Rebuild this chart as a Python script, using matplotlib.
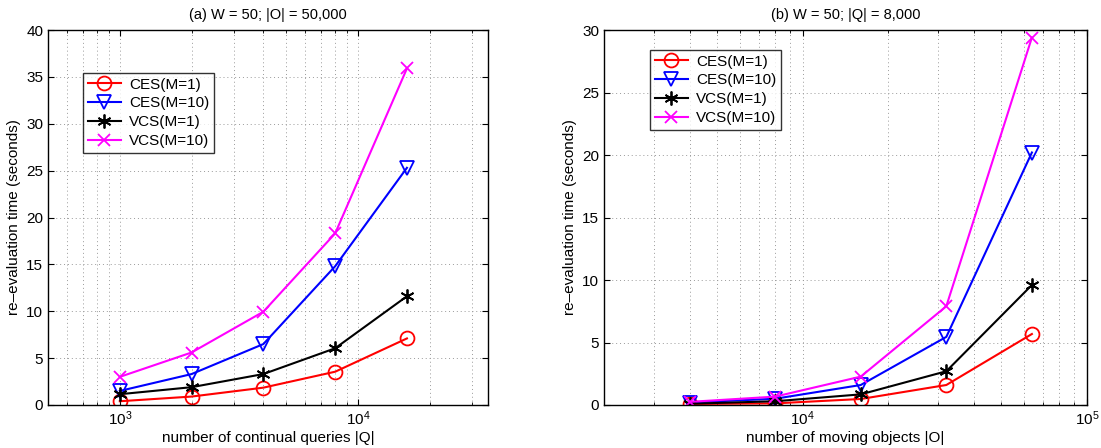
import matplotlib
matplotlib.use("Agg")
import matplotlib.pyplot as plt
from matplotlib.ticker import LogLocator, NullFormatter, MultipleLocator

plt.rcParams["font.family"] = ["Liberation Sans", "DejaVu Sans"]
plt.rcParams["mathtext.fontset"] = "custom"
plt.rcParams["mathtext.rm"] = "Liberation Sans"
plt.rcParams["mathtext.it"] = "Liberation Sans"

# (a) varying number of queries, |O| = 50,000
queries = [1000, 2000, 4000, 8000, 16000]
a_ces1 = [0.4, 0.9, 1.85, 3.55, 7.1]
a_ces10 = [1.5, 3.3, 6.5, 14.8, 25.3]
a_vcs1 = [1.15, 1.9, 3.3, 6.05, 11.6]
a_vcs10 = [3.0, 5.6, 9.95, 18.3, 35.9]

# (b) varying number of objects, |Q| = 8,000
objects = [4000, 8000, 16000, 32000, 64000]
b_ces1 = [0.08, 0.13, 0.48, 1.6, 5.68]
b_ces10 = [0.2, 0.5, 1.6, 5.45, 20.2]
b_vcs1 = [0.1, 0.3, 0.85, 2.7, 9.6]
b_vcs10 = [0.25, 0.67, 2.27, 7.9, 29.4]

labels = ["CES(M=1)", "CES(M=10)", "VCS(M=1)", "VCS(M=10)"]
colors = ["#ff0000", "#0000ff", "#000000", "#ff00ff"]
markers = ["o", "v", (6, 2, 0), "x"]

fig = plt.figure(figsize=(11.01, 4.48), dpi=100)
W, H = 1101, 448
ax1 = fig.add_axes([48 / W, 1 - 405 / H, 440 / W, 375 / H])
ax2 = fig.add_axes([604 / W, 1 - 405 / H, 483 / W, 375 / H])


def draw(ax, x, series, xlim, ylim, title, xlabel, leg_anchor):
    for ys, lab, c, m in zip(series, labels, colors, markers):
        ax.plot(x, ys, color=c, marker=m, markersize=10 if m != "x" else 8,
                markerfacecolor="none", markeredgecolor=c, markeredgewidth=1.3,
                linewidth=1.5, label=lab)
    ax.set_xscale("log")
    ax.set_xlim(*xlim)
    ax.set_ylim(*ylim)
    ax.yaxis.set_major_locator(MultipleLocator(5))
    ax.xaxis.set_major_locator(LogLocator(base=10))
    ax.xaxis.set_minor_locator(LogLocator(base=10, subs=range(2, 10)))
    ax.xaxis.set_minor_formatter(NullFormatter())
    grid_kw = dict(color="0.6", linestyle=(0, (1, 3)), linewidth=0.7)
    ax.grid(True, which="major", **grid_kw)
    ax.grid(True, which="minor", axis="x", **grid_kw)
    ax.tick_params(which="both", direction="in", top=True, right=True, labelsize=11)
    ax.tick_params(which="major", length=4)
    ax.tick_params(which="minor", length=2)
    for s in ax.spines.values():
        s.set_linewidth(1.0)
    ax.set_title(title, fontsize=10.5, pad=8)
    ax.set_xlabel(xlabel, fontsize=11, labelpad=2)
    ax.set_ylabel("re\u2013evaluation time (seconds)", fontsize=11, labelpad=4)
    leg = ax.legend(loc="upper left", bbox_to_anchor=leg_anchor, fontsize=11,
                    frameon=True, fancybox=False, edgecolor="black",
                    borderpad=0.3, labelspacing=0.32, handlelength=2.2,
                    handletextpad=0.5, borderaxespad=0)
    leg.get_frame().set_linewidth(1.0)


draw(ax1, queries, [a_ces1, a_ces10, a_vcs1, a_vcs10], (500, 35000), (0, 40),
     "(a) W = 50; |O| = 50,000", "number of continual queries |Q|",
     ((83 - 48) / 440, (405 - 73) / 375))
draw(ax2, objects, [b_ces1, b_ces10, b_vcs1, b_vcs10], (2000, 100000), (0, 30),
     "(b) W = 50; |Q| = 8,000", "number of moving objects |O|",
     ((650 - 604) / 483, (405 - 50) / 375))

fig.savefig("out.png", dpi=100)
